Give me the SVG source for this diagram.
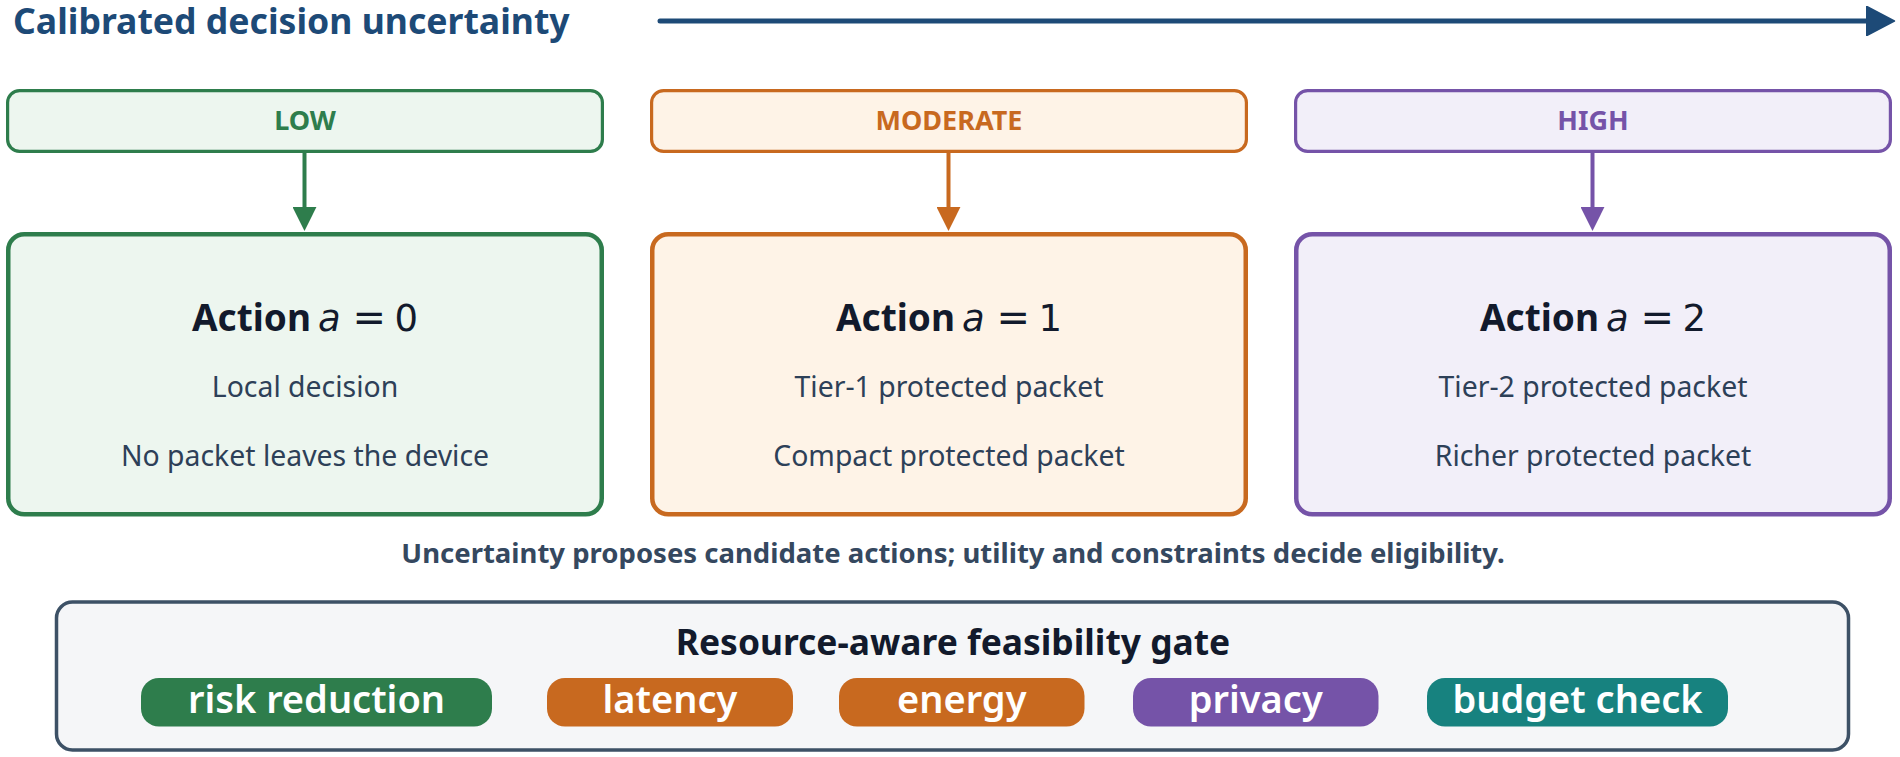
<svg xmlns="http://www.w3.org/2000/svg" width="1900" height="757" viewBox="0 0 1900 757">
  <style>
    text { font-family: "Noto Sans", "Open Sans", "DejaVu Sans", sans-serif; }
    .title { font-size: 35.6px; font-weight: 700; fill: #1d4a77; }
    .lvl { font-size: 27px; font-weight: 700; text-anchor: middle; }
    .lvlbox { stroke-width: 3.2; }
    .actbox { stroke-width: 4.5; }
    .acth { font-size: 37px; fill: #121a2c; }
    .bold { font-weight: 700; }
    .math { font-family: "DejaVu Sans", sans-serif; }
    .eq { font-size: 40px; }
    .ital { font-style: italic; }
    .body { font-size: 28.4px; fill: #2d4058; text-anchor: middle; }
    .caption { font-size: 27.5px; font-weight: 700; fill: #35485f; text-anchor: middle; }
    .gate { font-size: 35.4px; font-weight: 700; fill: #121a2c; text-anchor: middle; }
    .pilltxt { font-size: 38px; font-weight: 600; fill: #ffffff; text-anchor: middle; }
    .green { stroke: #2e7d4c; fill: #edf6ef; }
    .orange { stroke: #c8691f; fill: #fef3e7; }
    .purple { stroke: #7553a8; fill: #f2eff9; }
  </style>
  <defs>
    <marker id="hTop" markerUnits="userSpaceOnUse" markerWidth="30" markerHeight="30" viewBox="0 0 24 24" refX="2" refY="12" orient="auto">
      <path d="M1,0.5 L23,12 L1,23.5 Z" fill="#1d4a77" stroke="#1d4a77" stroke-width="1.5" stroke-linejoin="round"/>
    </marker>
    <marker id="hGreen" markerUnits="userSpaceOnUse" markerWidth="24" markerHeight="24" viewBox="0 0 22 22" refX="1" refY="11" orient="auto">
      <path d="M0,0 L22,11 L0,22 Z" fill="#2e7d4c"/>
    </marker>
    <marker id="hOrange" markerUnits="userSpaceOnUse" markerWidth="24" markerHeight="24" viewBox="0 0 22 22" refX="1" refY="11" orient="auto">
      <path d="M0,0 L22,11 L0,22 Z" fill="#c8691f"/>
    </marker>
    <marker id="hPurple" markerUnits="userSpaceOnUse" markerWidth="24" markerHeight="24" viewBox="0 0 22 22" refX="1" refY="11" orient="auto">
      <path d="M0,0 L22,11 L0,22 Z" fill="#7553a8"/>
    </marker>
  </defs>

  <rect x="0" y="0" width="1900" height="757" fill="#ffffff"/>

  <g id="header">
    <text class="title" x="13" y="33.5">Calibrated decision uncertainty</text>
  </g>

  <g id="connectors" fill="none">
    <line x1="660" y1="21" x2="1868" y2="21" stroke="#1d4a77" stroke-width="5" stroke-linecap="round" marker-end="url(#hTop)"/>
    <line x1="304.5" y1="153" x2="304.5" y2="208" stroke="#2e7d4c" stroke-width="4" marker-end="url(#hGreen)"/>
    <line x1="948.5" y1="153" x2="948.5" y2="208" stroke="#c8691f" stroke-width="4" marker-end="url(#hOrange)"/>
    <line x1="1592.5" y1="153" x2="1592.5" y2="208" stroke="#7553a8" stroke-width="4" marker-end="url(#hPurple)"/>
  </g>

  <g id="level-low">
    <rect class="lvlbox green" x="7.6" y="90.6" width="594.8" height="60.8" rx="12"/>
    <text class="lvl" x="305" y="129.5" fill="#2e7d4c">LOW</text>
  </g>
  <g id="level-moderate">
    <rect class="lvlbox orange" x="651.6" y="90.6" width="594.8" height="60.8" rx="12"/>
    <text class="lvl" x="949" y="129.5" fill="#c8691f">MODERATE</text>
  </g>
  <g id="level-high">
    <rect class="lvlbox purple" x="1295.6" y="90.6" width="594.8" height="60.8" rx="12"/>
    <text class="lvl" x="1593" y="129.5" fill="#7553a8">HIGH</text>
  </g>

  <g id="action-0">
    <rect class="actbox green" x="8.25" y="234.25" width="593.5" height="280" rx="16"/>
    <text class="acth" y="331"><tspan class="bold" x="192">Action</tspan><tspan class="math ital" x="318">a</tspan><tspan class="math eq" x="352.5">=</tspan><tspan class="math" x="394.5">0</tspan></text>
    <text class="body" x="305" y="397">Local decision</text>
    <text class="body" x="305" y="465.5">No packet leaves the device</text>
  </g>
  <g id="action-1">
    <rect class="actbox orange" x="652.25" y="234.25" width="593.5" height="280" rx="16"/>
    <text class="acth" y="331"><tspan class="bold" x="836">Action</tspan><tspan class="math ital" x="962">a</tspan><tspan class="math eq" x="996.5">=</tspan><tspan class="math" x="1038.5">1</tspan></text>
    <text class="body" x="949" y="397">Tier-1 protected packet</text>
    <text class="body" x="949" y="465.5">Compact protected packet</text>
  </g>
  <g id="action-2">
    <rect class="actbox purple" x="1296.25" y="234.25" width="593.5" height="280" rx="16"/>
    <text class="acth" y="331"><tspan class="bold" x="1480">Action</tspan><tspan class="math ital" x="1606">a</tspan><tspan class="math eq" x="1640.5">=</tspan><tspan class="math" x="1682.5">2</tspan></text>
    <text class="body" x="1593" y="397">Tier-2 protected packet</text>
    <text class="body" x="1593" y="465.5">Richer protected packet</text>
  </g>

  <g id="caption">
    <text class="caption" x="953" y="563">Uncertainty proposes candidate actions; utility and constraints decide eligibility.</text>
  </g>

  <g id="feasibility-gate">
    <rect x="56.5" y="602" width="1792" height="148" rx="16" fill="#f5f6f8" stroke="#3d5166" stroke-width="3.5"/>
    <text class="gate" x="953" y="655">Resource-aware feasibility gate</text>
  </g>
  <g id="pill-risk">
    <rect x="141" y="678" width="351" height="48.5" rx="18" fill="#2e7d4c"/>
    <text class="pilltxt" x="316.5" y="713">risk reduction</text>
  </g>
  <g id="pill-latency">
    <rect x="547" y="678" width="246" height="48.5" rx="18" fill="#c8691f"/>
    <text class="pilltxt" x="670" y="713">latency</text>
  </g>
  <g id="pill-energy">
    <rect x="839" y="678" width="245.5" height="48.5" rx="18" fill="#c8691f"/>
    <text class="pilltxt" x="961.75" y="713">energy</text>
  </g>
  <g id="pill-privacy">
    <rect x="1133" y="678" width="245.5" height="48.5" rx="18" fill="#7553a8"/>
    <text class="pilltxt" x="1255.75" y="713">privacy</text>
  </g>
  <g id="pill-budget">
    <rect x="1427" y="678" width="301" height="48.5" rx="18" fill="#17827f"/>
    <text class="pilltxt" x="1577.5" y="713">budget check</text>
  </g>
</svg>
